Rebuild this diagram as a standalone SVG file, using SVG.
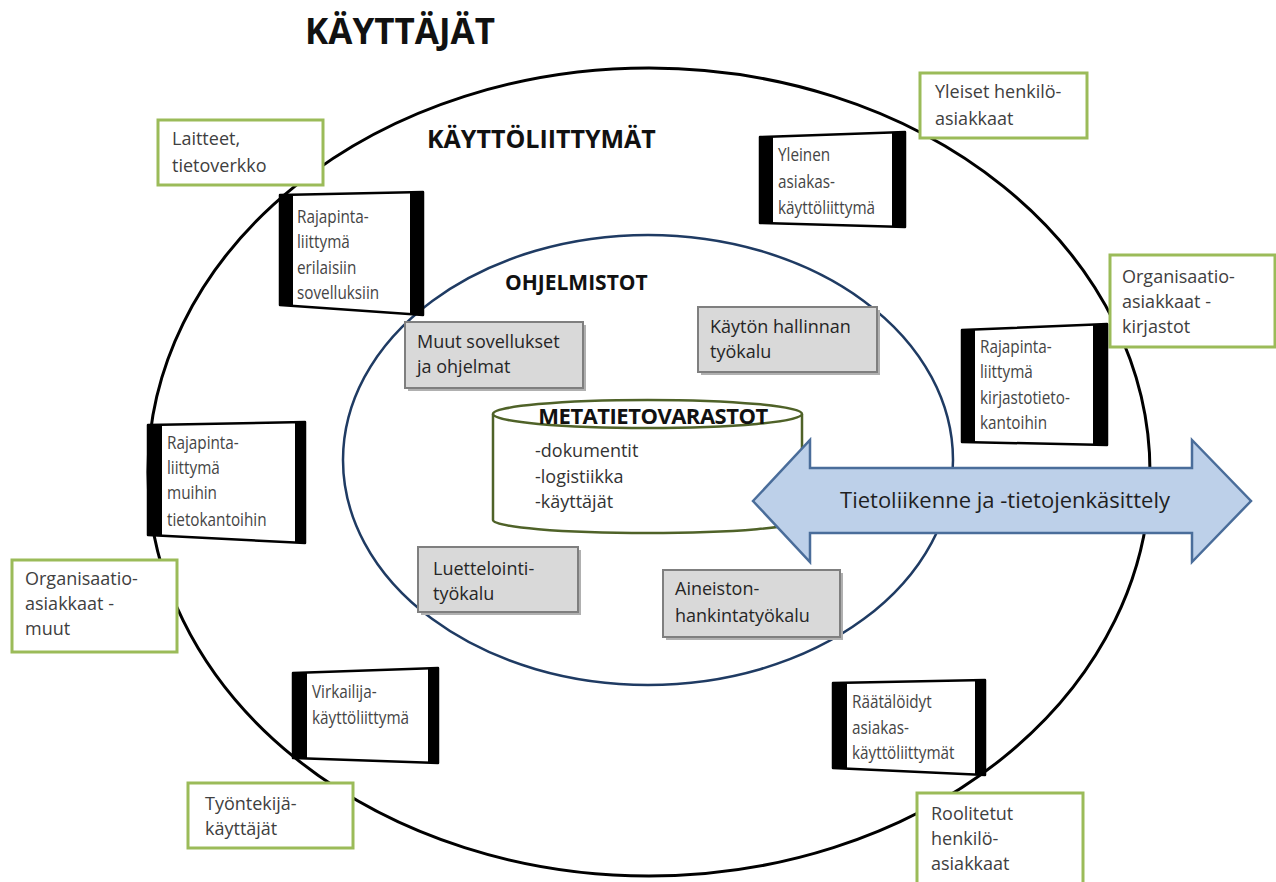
<svg xmlns="http://www.w3.org/2000/svg" width="1276" height="882" viewBox="0 0 1276 882">
<defs>
<style>
.t{font-family:"Open Sans","Liberation Sans",sans-serif;}
.title{font-weight:bold;fill:#111;}
.lbl{font-size:18px;fill:#404040;}
.gbox{fill:#fff;stroke:#9bbb59;stroke-width:3;}
.scr{fill:#fff;stroke:#000;stroke-width:2.5;stroke-linejoin:round;}
.bar{fill:#000;}
.stxt{font-size:18px;fill:#454545;}
.tool{fill:#d9d9d9;stroke:#7f7f7f;stroke-width:2;}
.shadow{fill:#b0b0b0;}
.ttxt{font-size:18px;fill:#262626;}
</style>
</defs>
<rect width="1276" height="882" fill="#fff"/>

<g id="rings">
<ellipse cx="649" cy="472" rx="501" ry="404" fill="none" stroke="#000" stroke-width="3"/>
<ellipse cx="648" cy="460" rx="305" ry="225" fill="none" stroke="#1f3b63" stroke-width="2.5"/>
</g>

<text id="title-kayttajat" class="t title" x="305" y="44" font-size="35">KÄYTTÄJÄT</text>
<text id="title-kayttoliittymat" class="t title" x="427" y="148" font-size="25">KÄYTTÖLIITTYMÄT</text>
<text id="title-ohjelmistot" class="t title" x="505" y="290" font-size="21">OHJELMISTOT</text>

<g id="user-laitteet">
<rect class="gbox" x="158" y="120" width="165" height="65"/>
<text class="t lbl"><tspan x="172" y="145">Laitteet,</tspan><tspan x="172" y="172">tietoverkko</tspan></text>
</g>
<g id="user-yleiset">
<rect class="gbox" x="920" y="73" width="167" height="65"/>
<text class="t lbl"><tspan x="935" y="98">Yleiset henkilö-</tspan><tspan x="935" y="125">asiakkaat</tspan></text>
</g>
<g id="user-org-kirjastot">
<rect class="gbox" x="1110" y="255" width="165" height="92"/>
<text class="t lbl"><tspan x="1122" y="283">Organisaatio-</tspan><tspan x="1122" y="308">asiakkaat -</tspan><tspan x="1122" y="333">kirjastot</tspan></text>
</g>
<g id="user-org-muut">
<rect class="gbox" x="12" y="560" width="165" height="92"/>
<text class="t lbl"><tspan x="25" y="585">Organisaatio-</tspan><tspan x="25" y="610">asiakkaat -</tspan><tspan x="25" y="635">muut</tspan></text>
</g>
<g id="user-tyontekija">
<rect class="gbox" x="188" y="783" width="165" height="65"/>
<text class="t lbl"><tspan x="205" y="810">Työntekijä-</tspan><tspan x="205" y="835">käyttäjät</tspan></text>
</g>
<g id="user-roolitetut">
<rect class="gbox" x="917" y="793" width="166" height="100"/>
<text class="t lbl"><tspan x="931" y="820">Roolitetut</tspan><tspan x="931" y="845">henkilö-</tspan><tspan x="931" y="870">asiakkaat</tspan></text>
</g>

<g id="ui-rajapinta-sovellukset">
<polygon class="scr" points="280,195 423,192 423,315 280,305"/>
<polygon class="bar" points="280,195 293,195 293,306 280,305"/>
<polygon class="bar" points="410,192 423,192 423,315 410,314"/>
<text class="t stxt" transform="translate(297 0) scale(0.85 1)"><tspan x="0" y="223">Rajapinta-</tspan><tspan x="0" y="248">liittymä</tspan><tspan x="0" y="274">erilaisiin</tspan><tspan x="0" y="299">sovelluksiin</tspan></text>
</g>
<g id="ui-yleinen-asiakas">
<polygon class="scr" points="760,137 905,132 905,227 760,223"/>
<polygon class="bar" points="760,137 773,137 773,223 760,223"/>
<polygon class="bar" points="892,132 905,132 905,227 892,227"/>
<text class="t stxt" transform="translate(778 0) scale(0.85 1)"><tspan x="0" y="161">Yleinen</tspan><tspan x="0" y="188">asiakas-</tspan><tspan x="0" y="214">käyttöliittymä</tspan></text>
</g>
<g id="ui-rajapinta-kirjasto">
<polygon class="scr" points="962,330 1107,324 1107,445 962,442"/>
<polygon class="bar" points="962,330 975,330 975,442 962,442"/>
<polygon class="bar" points="1093,324 1107,324 1107,445 1093,445"/>
<text class="t stxt" transform="translate(980 0) scale(0.85 1)"><tspan x="0" y="353">Rajapinta-</tspan><tspan x="0" y="378">liittymä</tspan><tspan x="0" y="404">kirjastotieto-</tspan><tspan x="0" y="429">kantoihin</tspan></text>
</g>
<g id="ui-rajapinta-muut">
<polygon class="scr" points="148,425 305,422 305,543 148,535"/>
<polygon class="bar" points="148,425 162,425 162,536 148,535"/>
<polygon class="bar" points="295,422 305,422 305,543 295,542"/>
<text class="t stxt" transform="translate(167 0) scale(0.85 1)"><tspan x="0" y="449">Rajapinta-</tspan><tspan x="0" y="474">liittymä</tspan><tspan x="0" y="499">muihin</tspan><tspan x="0" y="526">tietokantoihin</tspan></text>
</g>
<g id="ui-virkailija">
<polygon class="scr" points="293,673 438,668 438,763 293,758"/>
<polygon class="bar" points="293,673 307,673 307,758 293,758"/>
<polygon class="bar" points="428,668 438,668 438,763 428,763"/>
<text class="t stxt" transform="translate(312 0) scale(0.85 1)"><tspan x="0" y="698">Virkailija-</tspan><tspan x="0" y="724">käyttöliittymä</tspan></text>
</g>
<g id="ui-raatalodyt">
<polygon class="scr" points="833,683 985,680 985,775 833,768"/>
<polygon class="bar" points="833,683 847,683 847,768 833,768"/>
<polygon class="bar" points="975,680 985,680 985,775 975,775"/>
<text class="t stxt" transform="translate(852 0) scale(0.85 1)"><tspan x="0" y="708">Räätälöidyt</tspan><tspan x="0" y="734">asiakas-</tspan><tspan x="0" y="759">käyttöliittymät</tspan></text>
</g>

<g id="tool-muut">
<rect class="shadow" x="408" y="325" width="178" height="66"/>
<rect class="tool" x="405" y="322" width="178" height="66"/>
<text class="t ttxt"><tspan x="417" y="348">Muut sovellukset</tspan><tspan x="417" y="373">ja ohjelmat</tspan></text>
</g>
<g id="tool-kayton-hallinta">
<rect class="shadow" x="701" y="310" width="179" height="65"/>
<rect class="tool" x="698" y="307" width="179" height="65"/>
<text class="t ttxt"><tspan x="710" y="333">Käytön hallinnan</tspan><tspan x="710" y="358">työkalu</tspan></text>
</g>
<g id="tool-luettelointi">
<rect class="shadow" x="421" y="550" width="160" height="65"/>
<rect class="tool" x="418" y="547" width="160" height="65"/>
<text class="t ttxt"><tspan x="433" y="575">Luettelointi-</tspan><tspan x="433" y="600">työkalu</tspan></text>
</g>
<g id="tool-aineisto">
<rect class="shadow" x="666" y="573" width="177" height="67"/>
<rect class="tool" x="663" y="570" width="177" height="67"/>
<text class="t ttxt"><tspan x="675" y="595">Aineiston-</tspan><tspan x="675" y="622">hankintatyökalu</tspan></text>
</g>

<g id="metatietovarastot">
<path d="M493,414 L493,520 A154.5,13 0 0 0 802,520 L802,414" fill="#fff" stroke="#4f6228" stroke-width="2.5"/>
<ellipse cx="647.5" cy="414" rx="154.5" ry="14" fill="#fff" stroke="#4f6228" stroke-width="2.5"/>
<text class="t title" x="653" y="424" font-size="22" letter-spacing="-0.5" text-anchor="middle">METATIETOVARASTOT</text>
<text class="t" font-size="18" fill="#333"><tspan x="535" y="457">-dokumentit</tspan><tspan x="535" y="483">-logistiikka</tspan><tspan x="535" y="508">-käyttäjät</tspan></text>
</g>

<g id="arrow-tietoliikenne">
<polygon points="753,501 810,440 810,468 1192,468 1192,440 1251,501 1192,562 1192,533 810,533 810,562" fill="#bdd0e9" stroke="#4a6d9a" stroke-width="2.5" stroke-linejoin="miter"/>
<text class="t" x="1005" y="508" font-size="22" fill="#1f1f1f" text-anchor="middle">Tietoliikenne ja -tietojenkäsittely</text>
</g>
</svg>
